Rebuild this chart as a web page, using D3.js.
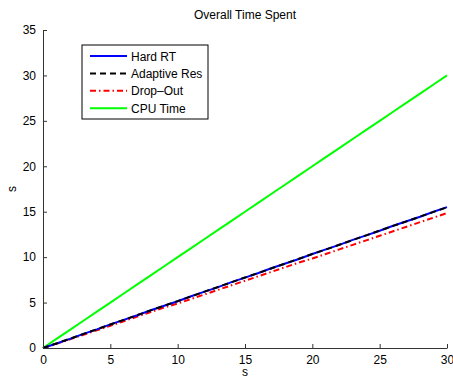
<!DOCTYPE html>
<html>
<head>
<meta charset="utf-8">
<script src="https://cdn.jsdelivr.net/npm/d3@7"></script>
<style>
  body { margin: 0; background: #fff; }
  text { font-family: "Liberation Sans", Arial, sans-serif; }
</style>
</head>
<body>
<div id="container"></div>
<script>
const width = 453, height = 379;
const margin = { top: 30, right: 6, bottom: 31, left: 43 };
const iw = width - margin.left - margin.right;
const ih = height - margin.top - margin.bottom;

// Data — seconds elapsed vs. accumulated time per strategy
const t = [0, 1, 2, 3, 4, 5, 6, 7, 8, 9, 10, 11, 12, 13, 14, 15, 16, 17, 18, 19, 20,
  21, 22, 23, 24, 25, 26, 27, 28, 29, 30];
const hardRT = [0, 0.5, 1.0, 1.55, 2.05, 2.6, 3.1, 3.6, 4.15, 4.65, 5.15, 5.7, 6.2, 6.7,
  7.25, 7.75, 8.25, 8.8, 9.3, 9.8, 10.35, 10.85, 11.35, 11.9, 12.4, 12.9, 13.45, 13.95,
  14.45, 15.0, 15.5];
const adaptiveRes = [0, 0.5, 1.02, 1.55, 2.06, 2.58, 3.1, 3.62, 4.14, 4.66, 5.16, 5.68,
  6.2, 6.72, 7.24, 7.76, 8.26, 8.78, 9.3, 9.82, 10.34, 10.84, 11.36, 11.88, 12.4, 12.92,
  13.44, 13.94, 14.46, 14.98, 15.48];
const dropOut = [0, 0.45, 0.95, 1.45, 1.95, 2.45, 2.95, 3.45, 3.95, 4.45, 4.9, 5.4, 5.9,
  6.4, 6.9, 7.4, 7.9, 8.4, 8.9, 9.4, 9.85, 10.35, 10.85, 11.35, 11.85, 12.35, 12.85,
  13.35, 13.85, 14.35, 14.85];
const cpuTime = [0, 1, 2, 3, 4, 5, 6, 7, 8, 9, 10, 11, 12, 13, 14, 15, 16, 17, 18, 19, 20,
  21, 22, 23, 24, 25, 26, 27, 28, 29, 30];

const xTicks = [0, 5, 10, 15, 20, 25, 30];
const yTicks = [0, 5, 10, 15, 20, 25, 30, 35];

const series = [
  { name: "Hard RT", values: hardRT, color: "#0000ff", dash: null },
  { name: "Adaptive Res", values: adaptiveRes, color: "#000000", dash: "6,4" },
  { name: "Drop\u2013Out", values: dropOut, color: "#ff0000", dash: "6,3,1.5,3" },
  { name: "CPU Time", values: cpuTime, color: "#00ff00", dash: null },
];

const svg = d3.select("#container").append("svg")
  .attr("width", width).attr("height", height);
const g = svg.append("g").attr("transform", `translate(${margin.left},${margin.top})`);

const x = d3.scaleLinear().domain([0, 30]).range([0, iw]);
const y = d3.scaleLinear().domain([0, 35]).range([ih, 0]);

// Lines
const line = d3.line().x((d, i) => x(t[i])).y((d) => y(d));
// draw order: CPU, Drop-Out, Hard RT, Adaptive on top
[series[3], series[2], series[0], series[1]].forEach((s) => {
  g.append("path")
    .attr("d", line(s.values))
    .attr("fill", "none")
    .attr("stroke", s.color)
    .attr("stroke-width", 2)
    .attr("stroke-dasharray", s.dash);
});

// Axes — MATLAB style, ticks pointing inward
const xAxis = g.append("g").attr("transform", `translate(0,${ih})`)
  .call(d3.axisBottom(x).tickValues(xTicks).tickSizeInner(-4).tickSizeOuter(0).tickPadding(7));
const yAxis = g.append("g")
  .call(d3.axisLeft(y).tickValues(yTicks).tickSizeInner(-4).tickSizeOuter(0).tickPadding(7));
[xAxis, yAxis].forEach((a) => {
  a.select(".domain").attr("stroke", "#333");
  a.selectAll("line").attr("stroke", "#333");
  a.selectAll("text").attr("fill", "#000").style("font-size", "12px")
    .style("font-family", "'Liberation Sans', Arial, sans-serif");
});
xAxis.selectAll("text").attr("dy", "0.71em");

// Title and axis labels
svg.append("text")
  .attr("x", 245).attr("y", 19)
  .attr("text-anchor", "middle")
  .style("font-size", "12px")
  .text("Overall Time Spent");
svg.append("text")
  .attr("x", margin.left + iw / 2).attr("y", 376)
  .attr("text-anchor", "middle")
  .style("font-size", "12px")
  .text("s");
svg.append("text")
  .attr("transform", `translate(16,${margin.top + ih / 2}) rotate(-90)`)
  .attr("text-anchor", "middle")
  .style("font-size", "12px")
  .text("s");

// Legend
const legend = svg.append("g").attr("transform", "translate(82,45)");
legend.append("rect")
  .attr("width", 126).attr("height", 74)
  .attr("fill", "#fff").attr("stroke", "#000").attr("stroke-width", 1);
series.forEach((s, i) => {
  const cy = 11 + i * 17.4;
  legend.append("line")
    .attr("x1", 8).attr("x2", 45).attr("y1", cy).attr("y2", cy)
    .attr("stroke", s.color).attr("stroke-width", 2)
    .attr("stroke-dasharray", s.dash);
  legend.append("text")
    .attr("x", 49).attr("y", cy + 4.5)
    .style("font-size", "12px")
    .text(s.name);
});
</script>
</body>
</html>
